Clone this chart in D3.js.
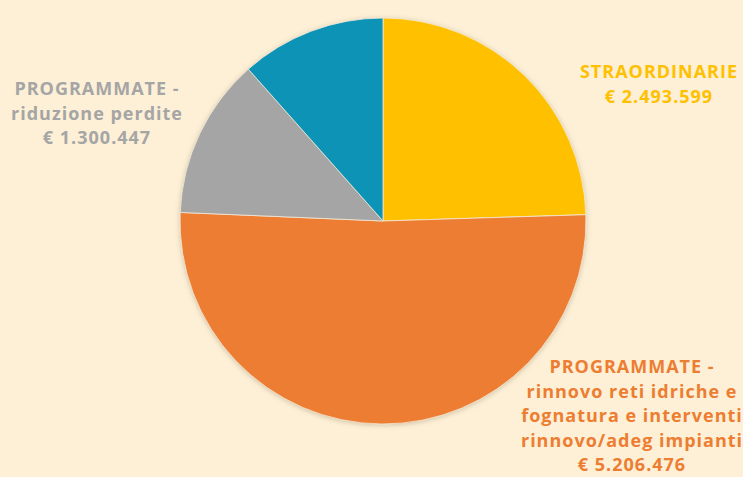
<!DOCTYPE html>
<html>
<head>
<meta charset="utf-8">
<script src="https://cdn.jsdelivr.net/npm/d3@7"></script>
<style>
  html, body { margin: 0; padding: 0; background: #fdf0d6; }
  svg { display: block; }
</style>
</head>
<body>
<svg id="chart" width="743" height="477"></svg>
<script>
// Data
const categories = ["STRAORDINARIE", "PROGRAMMATE - rinnovo", "PROGRAMMATE - riduzione perdite", "ALTRO"];
const values = [2493599, 5206476, 1300447, 1175000];
const colors = ["#ffc000", "#ed7d31", "#a5a5a5", "#0e93b6"];
const labelLines = [
    ["STRAORDINARIE", "€ 2.493.599"],
    ["PROGRAMMATE -", "rinnovo reti idriche e", "fognatura e interventi", "rinnovo/adeg impianti", "€ 5.206.476"],
    ["PROGRAMMATE -", "riduzione perdite", "€ 1.300.447"],
    []
];
const labelPos = [[659, 78], [632, 373], [97, 95], [0, 0]];

const width = 743, height = 477;
const cx = 383, cy = 221, radius = 203;

const svg = d3.select("#chart");

svg.append("rect").attr("width", width).attr("height", height).attr("fill", "#fdf0d6");

// soft shadow
const defs = svg.append("defs");
const f = defs.append("filter").attr("id", "shadow").attr("x", "-10%").attr("y", "-10%").attr("width", "120%").attr("height", "120%");
f.append("feDropShadow").attr("dx", 0).attr("dy", 1).attr("stdDeviation", 2.5)
    .attr("flood-color", "#7a6a50").attr("flood-opacity", 0.35);

const pie = d3.pie().sort(null).value(d => d);
const arc = d3.arc().innerRadius(0).outerRadius(radius);

const g = svg.append("g").attr("transform", `translate(${cx},${cy})`);

g.append("g").attr("filter", "url(#shadow)")
    .selectAll("path")
    .data(pie(values))
    .join("path")
    .attr("d", arc)
    .attr("fill", (d, i) => colors[i])
    .attr("stroke", "#f4ead8")
    .attr("stroke-width", 0.8);

// Labels
const fontFamily = "'Century Gothic', 'Open Sans', sans-serif";
labelLines.forEach((lines, i) => {
    if (!lines.length) return;
    const t = svg.append("text")
        .attr("x", labelPos[i][0])
        .attr("y", labelPos[i][1])
        .attr("text-anchor", "middle")
        .attr("fill", colors[i])
        .style("font-family", fontFamily)
        .style("font-weight", "bold")
        .style("font-size", "18px")
        .style("letter-spacing", "1px");
    lines.forEach((s, j) => {
        t.append("tspan")
            .attr("x", labelPos[i][0])
            .attr("dy", j === 0 ? 0 : 24.5)
            .text(s);
    });
});
</script>
</body>
</html>
